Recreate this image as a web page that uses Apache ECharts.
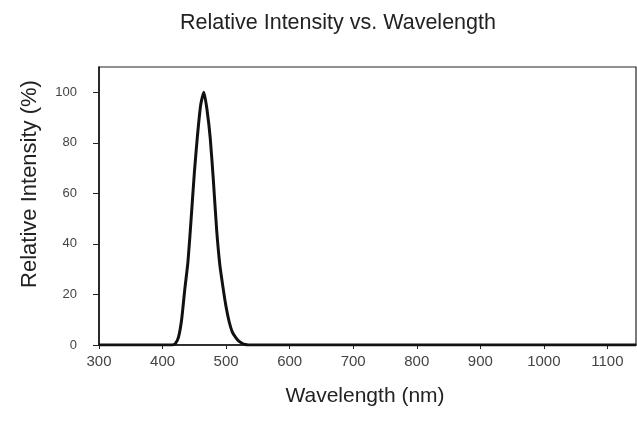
<!DOCTYPE html>
<html>
<head>
<meta charset="utf-8">
<script src="https://cdn.jsdelivr.net/npm/echarts@6/dist/echarts.min.js"></script>
<style>html,body{margin:0;padding:0;background:#fff;}#c{width:637px;height:424px;}</style>
</head>
<body>
<div id="c"></div>
<script>
var wavelengths = [300, 350, 400, 415, 420, 425, 430, 435, 440, 445, 450, 455, 460, 465, 470, 475, 480, 485, 490, 495, 500, 505, 510, 515, 520, 525, 530, 535, 600, 700, 800, 900, 1000, 1100, 1145];
var intensity   = [0, 0, 0, 0, 0.5, 3, 10, 22, 33, 50, 68, 83, 95, 100, 93, 82, 65, 46, 32, 23, 15, 9, 5, 3, 1.5, 0.7, 0.2, 0, 0, 0, 0, 0, 0, 0, 0];
var xTicks = [300, 400, 500, 600, 700, 800, 900, 1000, 1100];
var yTicks = [0, 20, 40, 60, 80, 100];
var titleText = 'Relative Intensity vs. Wavelength';
var xTitle = 'Wavelength (nm)';
var yTitle = 'Relative Intensity (%)';

var points = wavelengths.map(function (w, i) { return [w, intensity[i]]; });
var chart = echarts.init(document.getElementById('c'), null, {renderer: 'canvas'});
var font = 'Liberation Sans, Arial, sans-serif';
chart.setOption({
  animation: false,
  backgroundColor: '#fff',
  grid: {left: 99, right: 1, top: 67, bottom: 79, show: true, borderColor: '#222', borderWidth: 1.2, backgroundColor: 'transparent'},
  xAxis: {
    type: 'value', min: 300, max: 1145, interval: 100,
    axisLine: {show: true, lineStyle: {color: '#111', width: 1.5}},
    axisTick: {show: true, length: 4, lineStyle: {color: '#222'}},
    axisLabel: {color: '#444', fontSize: 15, fontFamily: font, margin: 9, showMaxLabel: false,
      formatter: function (v) { return xTicks.indexOf(v) >= 0 ? String(v) : ''; }},
    splitLine: {show: false}
  },
  yAxis: {
    type: 'value', min: 0, max: 110, interval: 20,
    axisLine: {show: true, lineStyle: {color: '#111', width: 1.5}},
    axisTick: {show: true, length: 6, lineStyle: {color: '#222'}},
    axisLabel: {color: '#444', fontSize: 13, fontFamily: font, margin: 22, showMaxLabel: false,
      formatter: function (v) { return yTicks.indexOf(v) >= 0 ? String(v) : ''; }},
    splitLine: {show: false}
  },
  graphic: [
    {type: 'text', x: 338, y: 23, style: {text: titleText, fill: '#222', font: '21.5px ' + font, align: 'center', verticalAlign: 'middle'}},
    {type: 'text', x: 365, y: 396, style: {text: xTitle, fill: '#222', font: '21px ' + font, align: 'center', verticalAlign: 'middle'}},
    {type: 'text', x: 30, y: 184, rotation: Math.PI / 2, style: {text: yTitle, fill: '#222', font: '22px ' + font, align: 'center', verticalAlign: 'middle'}}
  ],
  series: [{
    type: 'line', data: points, showSymbol: false, smooth: 0.2,
    lineStyle: {color: '#111', width: 3}
  }]
});
</script>
</body>
</html>
